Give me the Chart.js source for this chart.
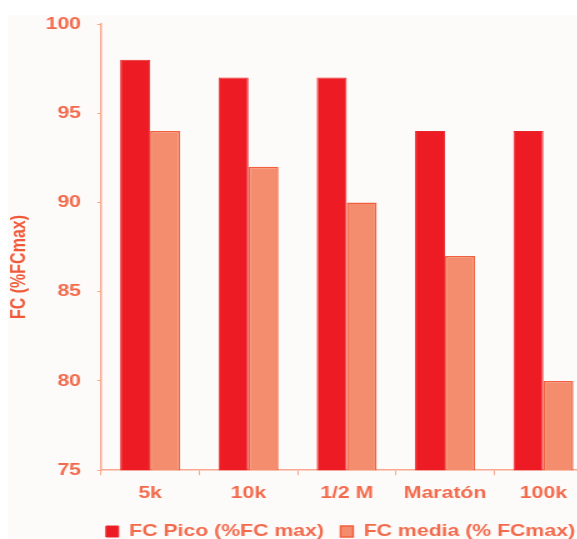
<!DOCTYPE html>
<html>
<head>
<meta charset="utf-8">
<script src="https://cdn.jsdelivr.net/npm/chart.js@4.4.1/dist/chart.umd.min.js"></script>
<style>
  html, body { margin: 0; padding: 0; background: #ffffff; }
  body { width: 577px; height: 539px; overflow: hidden; position: relative; }
  #paper { position: absolute; left: 8px; top: 15px; right: 0; bottom: 0; background: #fdfbfa; }
  #wrap { position: absolute; left: 0; top: 0; width: 560px; height: 539px; transform: scaleX(1.25); transform-origin: 0 0; }
</style>
</head>
<body>
<div id="paper"></div>
<div id="wrap"><canvas id="c" width="560" height="539"></canvas></div>
<script>
// Race distances and heart-rate values (% of max HR)
const categories = ['5k', '10k', '1/2 M', 'Maratón', '100k'];
const fcPico = [98, 97, 97, 94, 94];
const fcMedia = [94, 92, 90, 87, 80];
const yTicks = [75, 80, 85, 90, 95, 100];

const seriesNames = ['FC Pico (%FC max)', 'FC media (% FCmax)'];
const yTitle = 'FC (%FCmax)';

const textColor = '#f26a4c';
const axisColor = '#f7a88e';
const fontFamily = "'Liberation Sans', Arial, sans-serif";

// Shift the bottom legend so it starts under the y axis
const legendShift = {
  id: 'legendShift',
  afterLayout(chart) {
    const lg = chart.legend;
    if (lg) { lg.left += 71.5; lg.right += 71.5; }
  }
};

// Rotated y-axis caption
const yCaption = {
  id: 'yCaption',
  afterDraw(chart) {
    const ctx = chart.ctx;
    ctx.save();
    ctx.translate(15.5, 267);
    ctx.rotate(-Math.PI / 2);
    ctx.font = 'bold 16px ' + fontFamily;
    ctx.fillStyle = '#f0583a';
    ctx.textAlign = 'center';
    ctx.textBaseline = 'middle';
    ctx.fillText(yTitle, 0, 0);
    ctx.restore();
  }
};

new Chart(document.getElementById('c'), {
  type: 'bar',
  data: {
    labels: categories,
    datasets: [
      {
        label: seriesNames[0],
        data: fcPico,
        backgroundColor: '#ed1c24',
        borderColor: '#e9262b',
        borderWidth: 1,
        categoryPercentage: 0.61,
        barPercentage: 1.0
      },
      {
        label: seriesNames[1],
        data: fcMedia,
        backgroundColor: '#f48d6e',
        borderColor: '#f0603e',
        borderWidth: 1.5,
        categoryPercentage: 0.61,
        barPercentage: 1.0
      }
    ]
  },
  options: {
    responsive: false,
    animation: false,
    devicePixelRatio: 1,
    layout: { padding: { left: 0, right: 86, top: 24, bottom: -11 } },
    plugins: {
      tooltip: { enabled: false },
      legend: {
        position: 'bottom',
        align: 'start',
        labels: {
          color: textColor,
          font: { family: fontFamily, size: 17, weight: 'bold' },
          boxWidth: 10,
          boxHeight: 11,
          padding: 13.3
        }
      }
    },
    scales: {
      x: {
        afterFit(scale) { scale.height = 39.5; },
        grid: { display: true, drawOnChartArea: false, offset: true, tickLength: 5, color: axisColor, lineWidth: 1 },
        border: { display: true, color: axisColor, width: 1.5 },
        ticks: {
          color: textColor,
          padding: 8,
          font: { family: fontFamily, size: 17, weight: 'bold' }
        }
      },
      y: {
        min: 75,
        max: 100,
        afterBuildTicks(scale) { scale.ticks = yTicks.map(v => ({ value: v })); },
        afterFit(scale) { scale.width = 80.8; },
        grid: { display: true, drawOnChartArea: false, tickLength: 3, color: axisColor, lineWidth: 1 },
        border: { display: true, color: axisColor, width: 1.5 },
        ticks: {
          color: textColor,
          padding: 13,
          font: { family: fontFamily, size: 17, weight: 'bold' }
        }
      }
    }
  },
  plugins: [legendShift, yCaption]
});
</script>
</body>
</html>
